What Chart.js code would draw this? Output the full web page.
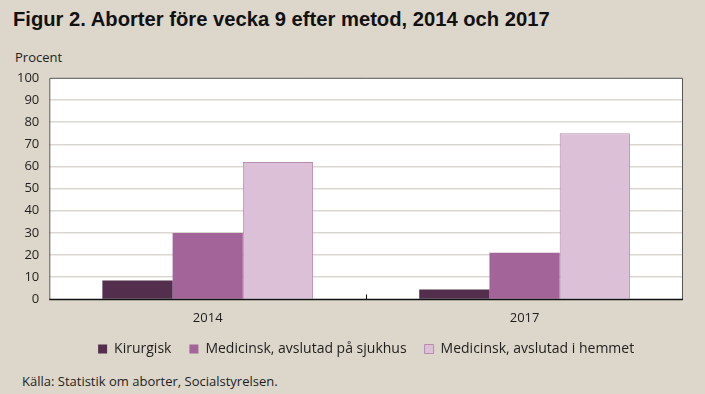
<!DOCTYPE html>
<html>
<head>
<meta charset="utf-8">
<script src="https://cdn.jsdelivr.net/npm/chart.js@4.4.1/dist/chart.umd.min.js"></script>
<style>
  html, body { margin: 0; padding: 0; background: #ddd6ca; }
  body { width: 705px; height: 394px; position: relative; overflow: hidden; font-family: "Open Sans", "DejaVu Sans", sans-serif; color: #1e1e1e; }
  #title { position: absolute; left: 13px; top: 8px; font-family: "Liberation Sans Narrow", "Liberation Sans", sans-serif; font-weight: bold; font-size: 20.2px; color: #111; }
  #unit { position: absolute; left: 15px; top: 48px; font-size: 13px; }
  #source { position: absolute; left: 22px; top: 372px; font-size: 13px; }
  #wrap { position: absolute; left: 0; top: 60px; width: 705px; height: 311px; }
</style>
</head>
<body>
<div id="title">Figur 2. Aborter före vecka 9 efter metod, 2014 och 2017</div>
<div id="unit">Procent</div>
<div id="wrap"><canvas id="chart"></canvas></div>
<div id="source">Källa: Statistik om aborter, Socialstyrelsen.</div>
<script>
// Chart data
var years = ['2014', '2017'];
var kirurgisk = [8.5, 4.5];
var medSjukhus = [30, 21];
var medHemmet = [62, 75];
var yTicks = [0, 10, 20, 30, 40, 50, 60, 70, 80, 90, 100];

/* ── Plot frame: white fill, border and the category divider tick ── */
var framePlugin = {
    id: 'frame',
    afterLayout: function (chart) {
        // pull the legend row a little closer to the year labels
        chart.legend.top -= 5;
        chart.legend.bottom -= 5;
    },
    beforeDraw: function (chart) {
        var a = chart.chartArea, ctx = chart.ctx;
        ctx.save();
        ctx.fillStyle = '#ffffff';
        ctx.fillRect(a.left, a.top, a.right - a.left, a.bottom - a.top);
        ctx.restore();
    },
    afterDatasetsDraw: function (chart) {
        var a = chart.chartArea, ctx = chart.ctx;
        var x = chart.scales.x;
        ctx.save();
        ctx.strokeStyle = '#555555';
        ctx.lineWidth = 1;
        ctx.beginPath();
        ctx.moveTo(a.left + 0.5, a.bottom);
        ctx.lineTo(a.left + 0.5, a.top + 0.5);
        ctx.lineTo(a.right - 0.5, a.top + 0.5);
        ctx.lineTo(a.right - 0.5, a.bottom);
        ctx.stroke();
        ctx.strokeStyle = '#111111';
        ctx.lineWidth = 1.5;
        ctx.beginPath();
        ctx.moveTo(a.left, a.bottom);
        ctx.lineTo(a.right, a.bottom);
        ctx.stroke();
        // divider tick between the two years
        var mid = Math.round(x.getPixelForValue(0.5)) + 0.5;
        ctx.lineWidth = 1;
        ctx.beginPath();
        ctx.moveTo(mid, a.bottom);
        ctx.lineTo(mid, a.bottom - 5);
        ctx.stroke();
        ctx.restore();
    }
};

var ctx = document.getElementById('chart').getContext('2d');
new Chart(ctx, {
    type: 'bar',
    data: {
        labels: years,
        datasets: [{
            label: 'Kirurgisk',
            data: kirurgisk,
            backgroundColor: '#532f4d',
            borderColor: '#532f4d',
            borderWidth: 0
        }, {
            label: 'Medicinsk, avslutad på sjukhus',
            data: medSjukhus,
            backgroundColor: '#a36499',
            borderColor: '#a36499',
            borderWidth: 0
        }, {
            label: 'Medicinsk, avslutad i hemmet',
            data: medHemmet,
            backgroundColor: '#dcc0d7',
            borderColor: '#b88bb0',
            borderWidth: 1
        }]
    },
    options: {
        responsive: true,
        maintainAspectRatio: false,
        animation: false,
        layout: { padding: { left: 7, right: 22, top: 12, bottom: 0 } },
        datasets: { bar: { categoryPercentage: 0.665, barPercentage: 1 } },
        plugins: {
            tooltip: { enabled: false },
            legend: {
                position: 'bottom',
                fullSize: false,
                labels: {
                    boxWidth: 9,
                    boxHeight: 9,
                    padding: 18,
                    color: '#1e1e1e',
                    font: { family: '"Open Sans", "DejaVu Sans", sans-serif', size: 14 }
                }
            }
        },
        scales: {
            x: {
                grid: { display: false },
                border: { display: false },
                ticks: {
                    color: '#1e1e1e',
                    padding: 3,
                    font: { family: '"Open Sans", "DejaVu Sans", sans-serif', size: 13 }
                }
            },
            y: {
                min: 0,
                max: 100,
                afterBuildTicks: function (axis) {
                    axis.ticks = yTicks.map(function (v) { return { value: v }; });
                },
                grid: { color: '#dcd7cf', lineWidth: 1.5, drawTicks: false },
                border: { display: false },
                ticks: {
                    color: '#1e1e1e',
                    padding: 10,
                    font: { family: '"Open Sans", "DejaVu Sans", sans-serif', size: 13 }
                }
            }
        }
    },
    plugins: [framePlugin]
});
</script>
</body>
</html>
